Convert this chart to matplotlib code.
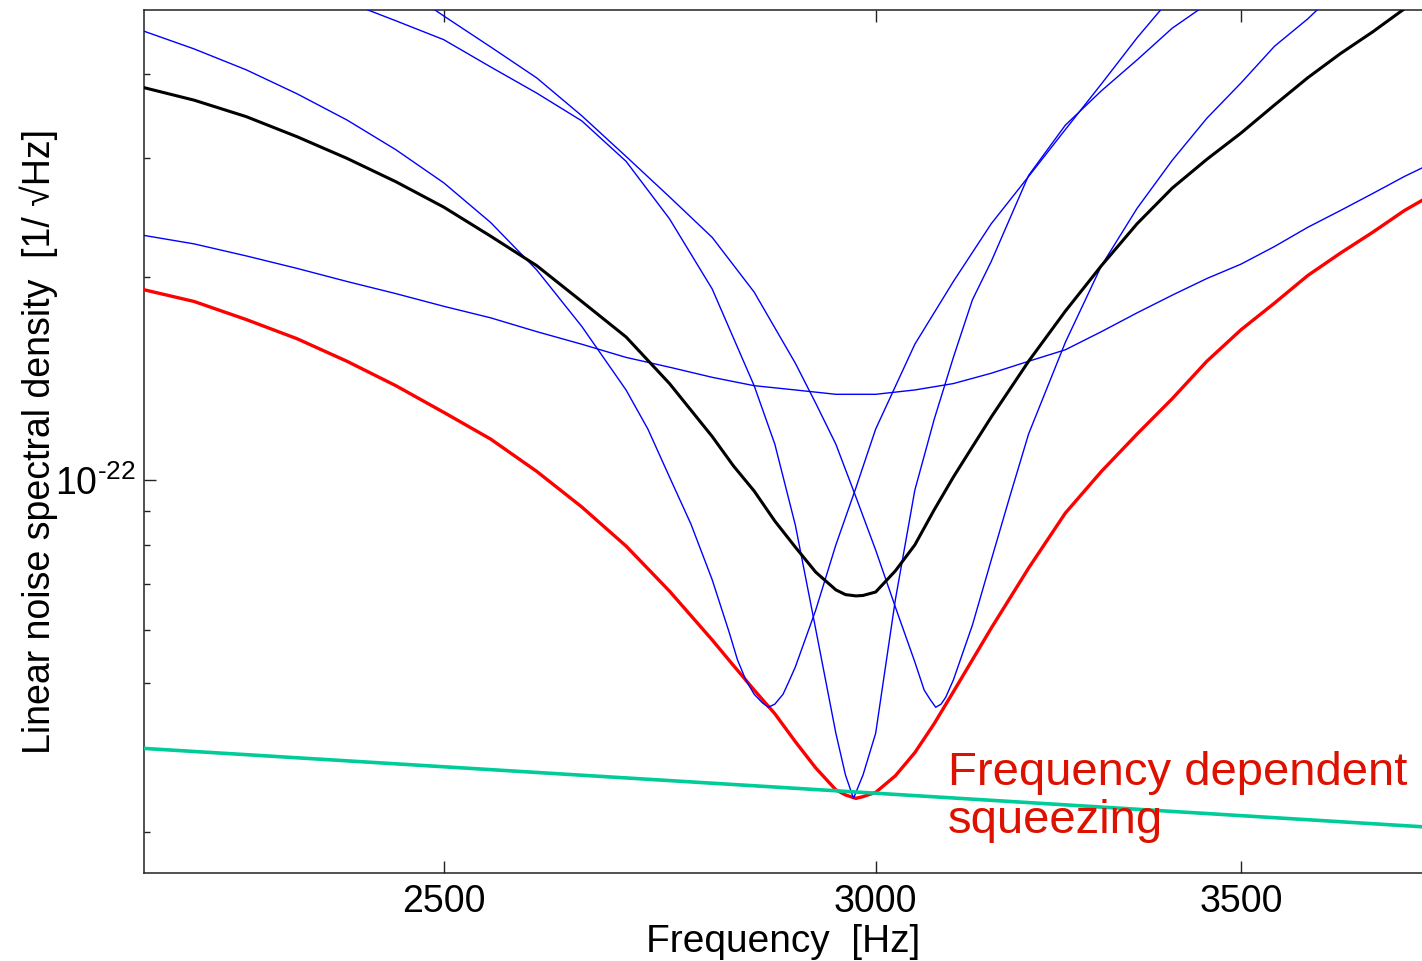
import numpy as np
import matplotlib
matplotlib.use('Agg')
import matplotlib.pyplot as plt
from matplotlib.ticker import FixedLocator, FixedFormatter, NullLocator, NullFormatter, LogLocator

# noise amplitudes below are in units of 1e-23 1/sqrt(Hz)
UNIT = 1e-23

# red and black traces share one frequency grid (Hz)
freq = [2200, 2250, 2300, 2350, 2400, 2450, 2500, 2550, 2600, 2650, 2700, 2750, 2800,
        2825, 2850, 2875, 2900, 2925, 2950, 2962, 2975, 2984, 3000, 3025, 3050, 3075, 3100,
        3125, 3150, 3200, 3250, 3300, 3350, 3400, 3450, 3500, 3550, 3600, 3650, 3700, 3750, 3800]
fd_squeezing = [19.2, 18.4, 17.3, 16.2, 15.0, 13.8, 12.6, 11.5, 10.3, 9.12, 7.98, 6.84, 5.79,
                5.31, 4.88, 4.50, 4.09, 3.74, 3.47, 3.41, 3.37, 3.39, 3.44, 3.64, 3.94, 4.35, 4.85,
                5.41, 6.03, 7.40, 8.93, 10.3, 11.7, 13.2, 15.0, 16.7, 18.3, 20.1, 21.7, 23.3, 25.1, 26.7]
no_squeezing = [38.3, 36.6, 34.6, 32.3, 30.0, 27.7, 25.4, 23.0, 20.8, 18.4, 16.3, 13.9, 11.6,
                10.5, 9.63, 8.69, 7.95, 7.30, 6.87, 6.76, 6.73, 6.74, 6.82, 7.33, 8.01, 9.03, 10.1,
                11.2, 12.4, 15.0, 17.8, 20.8, 24.0, 27.1, 29.9, 32.7, 36.0, 39.5, 42.9, 46.2, 50.0, 53.7]

# blue traces: fixed squeeze angles
freq_wide = [2200, 2250, 2300, 2350, 2400, 2450, 2500, 2550, 2600, 2650, 2700, 2750, 2800,
             2850, 2900, 2950, 2975, 3000, 3050, 3100, 3150, 3200, 3250, 3300, 3350, 3400,
             3450, 3500, 3550, 3600, 3650, 3700, 3750, 3800]
blue_wide = [23.1, 22.4, 21.5, 20.6, 19.7, 18.9, 18.1, 17.4, 16.6, 15.9, 15.2, 14.7, 14.2,
             13.8, 13.6, 13.4, 13.4, 13.4, 13.6, 13.9, 14.4, 15.0, 15.6, 16.6, 17.7, 18.8,
             19.9, 20.9, 22.2, 23.7, 25.1, 26.6, 28.2, 29.7]

freq_left = [2200, 2250, 2300, 2350, 2400, 2450, 2500, 2550, 2600, 2650, 2700, 2725, 2750,
             2775, 2800, 2820, 2830, 2840, 2850, 2860, 2867, 2875, 2885, 2892, 2900, 2925,
             2950, 2975, 3000, 3050, 3100, 3150, 3200, 3250, 3300, 3350, 3400]
blue_left = [46.5, 43.6, 40.6, 37.4, 34.2, 30.9, 27.6, 24.1, 20.5, 16.9, 13.6, 11.9, 10.1,
             8.60, 7.11, 5.95, 5.41, 5.05, 4.81, 4.67, 4.60, 4.65, 4.81, 5.02, 5.28, 6.41,
             8.01, 9.73, 11.9, 15.9, 19.7, 24.0, 28.2, 33.1, 38.7, 45.3, 52.2]

freq_center = [2350, 2400, 2450, 2500, 2550, 2600, 2650, 2700, 2750, 2800, 2850, 2875, 2900,
               2925, 2950, 2962, 2972, 2984, 3000, 3025, 3050, 3075, 3100, 3125, 3150, 3200,
               3250, 3300, 3350, 3400, 3450, 3500]
blue_center = [54.6, 51.2, 48.0, 45.0, 41.0, 37.5, 34.1, 29.7, 24.4, 19.2, 13.8, 11.3, 8.57,
               6.01, 4.21, 3.65, 3.37, 3.65, 4.21, 6.64, 9.66, 12.3, 15.2, 18.5, 21.1, 28.3,
               33.6, 37.8, 42.0, 46.8, 50.8, 54.8]

freq_right = [2450, 2500, 2550, 2600, 2650, 2700, 2750, 2800, 2850, 2900, 2925, 2950, 2975,
              3000, 3025, 3050, 3062, 3070, 3077, 3084, 3090, 3100, 3125, 3150, 3175, 3200,
              3250, 3300, 3350, 3400, 3450, 3500, 3550, 3600, 3650]
blue_right = [54.6, 48.8, 43.9, 39.5, 34.7, 30.2, 26.3, 22.9, 19.0, 14.9, 13.0, 11.3, 9.44,
              7.87, 6.48, 5.37, 4.88, 4.72, 4.60, 4.65, 4.76, 5.05, 6.09, 7.61, 9.47, 11.7,
              16.0, 20.8, 25.3, 29.8, 34.4, 38.8, 44.0, 48.3, 53.7]

freq_floor = [2200, 3000, 3800]
floor_noise = [4.00, 3.43, 3.05]

xticks = [2500, 3000, 3500]
xtick_labels = ['2500', '3000', '3500']
yticks = [1e-22]
ytick_labels = [r'$10^{\text{-}22}$']

FONT = ['Liberation Sans', 'DejaVu Sans']


def asd(values):
    return np.array(values) * UNIT


def plot_traces(ax):
    ax.plot(freq, asd(fd_squeezing), color='#ff0000', lw=2.4, zorder=3)
    for f, v in [(freq_wide, blue_wide), (freq_left, blue_left),
                 (freq_center, blue_center), (freq_right, blue_right)]:
        ax.plot(f, asd(v), color='#0000ff', lw=1.0, zorder=4)
    ax.plot(freq, asd(no_squeezing), color='black', lw=2.2, zorder=5)
    ax.plot(freq_floor, asd(floor_noise), color='#00cc99', lw=2.6, zorder=6)


def style_axes(ax):
    ax.set_xscale('log')
    ax.set_yscale('log')
    ax.set_xlim(2203, 3778)
    ax.set_ylim(2.612e-23, 4.98e-22)

    ax.xaxis.set_major_locator(FixedLocator(xticks))
    ax.xaxis.set_major_formatter(FixedFormatter(xtick_labels))
    ax.xaxis.set_minor_locator(NullLocator())
    ax.yaxis.set_major_locator(FixedLocator(yticks))
    ax.yaxis.set_major_formatter(FixedFormatter(ytick_labels))
    ax.yaxis.set_minor_locator(LogLocator(base=10, subs=np.arange(2, 10)))
    ax.yaxis.set_minor_formatter(NullFormatter())

    ax.tick_params(axis='both', which='both', direction='in', width=1.0,
                   color='#222222', labelsize=27, top=True, right=False)
    ax.tick_params(axis='x', which='major', length=8.5, pad=8)
    ax.tick_params(axis='y', which='major', length=8.5, pad=6)
    ax.tick_params(axis='y', which='minor', length=4.5)

    for side in ['left', 'top', 'bottom']:
        ax.spines[side].set_linewidth(1.1)
        ax.spines[side].set_color('#222222')
    ax.spines['right'].set_visible(False)

    ax.set_xlabel('Frequency  [Hz]', fontsize=28, labelpad=3)
    ax.set_ylabel('Linear noise spectral density  [1/ \u221aHz]', fontsize=27)
    ax.yaxis.set_label_coords(-0.067, 0.5)


def main():
    plt.rcParams['font.family'] = FONT
    plt.rcParams['mathtext.fontset'] = 'custom'
    plt.rcParams['mathtext.rm'] = 'Liberation Sans'
    plt.rcParams['mathtext.it'] = 'Liberation Sans:italic'

    fig = plt.figure(figsize=(14.22, 9.61), dpi=100)
    ax = fig.add_axes([0.1013, 0.0916, 0.8987, 0.898])

    plot_traces(ax)
    style_axes(ax)

    ax.text(0.629, 0.102, 'Frequency dependent', transform=ax.transAxes,
            color='#dd1100', fontsize=34, va='baseline', ha='left', zorder=7)
    ax.text(0.629, 0.0463, 'squeezing', transform=ax.transAxes,
            color='#dd1100', fontsize=34, va='baseline', ha='left', zorder=7)

    fig.savefig('out.png', dpi=100)


if __name__ == '__main__':
    main()
